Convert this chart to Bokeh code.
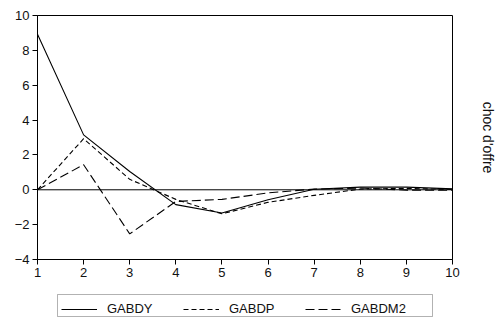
from bokeh.plotting import figure
from bokeh.layouts import column
from bokeh.models import (Range1d, FixedTicker, Span, Legend, LegendItem, LinearAxis,
                          BoxAnnotation)
from bokeh.embed import file_html
from bokeh.resources import INLINE

periods = [1, 2, 3, 4, 5, 6, 7, 8, 9, 10]
gabdy = [8.93, 3.15, 1.05, -0.85, -1.33, -0.57, 0.03, 0.15, 0.15, 0.05]
gabdp = [0.0, 2.93, 0.6, -0.55, -1.38, -0.72, -0.32, 0.04, 0.08, 0.02]
gabdm2 = [0.0, 1.44, -2.53, -0.67, -0.55, -0.18, 0.04, 0.1, -0.02, -0.03]
y_ticks = [-4, -2, 0, 2, 4, 6, 8, 10]
side_label = "choc d'offre"
series_names = ["GABDY", "GABDP", "GABDM2"]

FONT = "Liberation Sans"
TXT = "#111111"
dashes = ["solid", "5 3", "9 4"]
series = [gabdy, gabdp, gabdm2]

# ---- main chart ----
p = figure(width=500, height=284, output_backend="svg", toolbar_location=None,
           x_range=Range1d(1, 10), y_range=Range1d(-4, 10),
           min_border_left=37, min_border_right=48, min_border_top=15,
           min_border_bottom=25)
p.grid.visible = False
p.outline_line_color = "black"
p.outline_line_width = 1

for ax in (p.xaxis[0], p.yaxis[0]):
    ax.axis_line_color = "black"
    ax.major_tick_line_color = "black"
    ax.minor_tick_line_color = None
    ax.major_tick_in = 0
    ax.major_tick_out = 5
    ax.major_label_standoff = 3
    ax.major_label_text_font = FONT
    ax.major_label_text_font_size = "13px"
    ax.major_label_text_color = TXT
p.xaxis.ticker = FixedTicker(ticks=periods)
p.yaxis.ticker = FixedTicker(ticks=y_ticks)

right_ax = LinearAxis(ticker=FixedTicker(ticks=[]), axis_line_color=None,
                      major_tick_line_color=None, minor_tick_line_color=None,
                      major_tick_out=0, major_tick_in=0,
                      axis_label=side_label, axis_label_standoff=27,
                      axis_label_text_font=FONT, axis_label_text_font_size="14px",
                      axis_label_text_font_style="normal",
                      axis_label_text_color=TXT)
p.add_layout(right_ax, "right")

p.add_layout(Span(location=0, dimension="width", line_color="black", line_width=1))

for ys, d in zip(series, dashes):
    p.line(periods, ys, line_color="black", line_width=1.1, line_dash=d)

# ---- legend strip (proxy lines kept out of view) ----
lf = figure(width=500, height=33, output_backend="svg", toolbar_location=None,
            x_range=Range1d(100, 101), y_range=Range1d(0, 1),
            x_axis_location=None, y_axis_location=None,
            min_border_left=0, min_border_right=0, min_border_top=0,
            min_border_bottom=0)
lf.grid.visible = False
lf.outline_line_color = None
items = []
for name, ys, d in zip(series_names, series, dashes):
    r = lf.line(periods, ys, line_color="black", line_width=1.1, line_dash=d)
    items.append(LegendItem(label=name, renderers=[r]))

legend_frame = BoxAnnotation(left=57, right=432, top=10, bottom=32,
                             left_units="canvas", right_units="canvas",
                             top_units="canvas", bottom_units="canvas",
                             fill_color="white", fill_alpha=1,
                             line_color="black", line_width=1)
lf.add_layout(legend_frame)

legend = Legend(items=items, orientation="horizontal", location=(24, 1),
                padding=4, spacing=4, margin=0,
                glyph_width=36, glyph_height=14, label_height=14,
                label_width=72, label_standoff=10,
                label_text_font=FONT, label_text_font_size="13px",
                label_text_color=TXT,
                border_line_color=None,
                background_fill_alpha=0)
lf.add_layout(legend, "center")

layout = column(p, lf, spacing=0)
open("out.html", "w").write(file_html(layout, INLINE))
